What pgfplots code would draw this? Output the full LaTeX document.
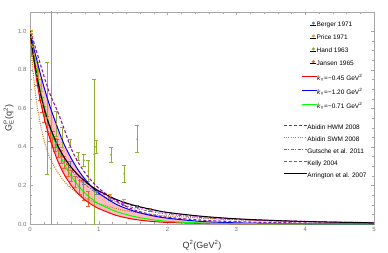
\documentclass[border=0pt]{standalone}
\usepackage{pgfplots}
\pgfplotsset{compat=1.18}
\usepackage{pgfplotstable}
\usepgfplotslibrary{fillbetween}
\usepackage{amsmath}
\usepackage{fontspec}
\setmainfont{Liberation Sans}

\definecolor{cberger}{HTML}{5E81B5}
\definecolor{cprice}{HTML}{E19C24}
\definecolor{chand}{HTML}{8FB032}
\definecolor{cjansen}{HTML}{EB6235}
\definecolor{cpurple}{HTML}{9614A0}
\definecolor{cbrown}{HTML}{CD7828}
\definecolor{cgray}{HTML}{6E6E6E}
\definecolor{cmag}{HTML}{FF00FF}
\definecolor{cband}{HTML}{FFA5A5}

\pgfplotstableread{
q     red    green  blue   hwm    swm    gut    kelly  arr
0     1      1      1      1      1      1      1      1
0.025 0.925  0.94   0.96   0.975  0.87   0.935  0.935  0.935
0.05  0.86   0.88   0.92   0.95   0.77   0.875  0.873  0.873
0.1   0.74   0.78   0.85   0.89   0.62   0.77   0.769  0.769
0.15  0.64   0.695  0.78   0.83   0.52   0.68   0.681  0.681
0.2   0.56   0.62   0.715  0.77   0.44   0.605  0.608  0.608
0.25  0.49   0.555  0.655  0.715  0.38   0.54   0.546  0.546
0.3   0.43   0.49   0.60   0.665  0.335  0.49   0.494  0.494
0.4   0.33   0.39   0.50   0.585  0.27   0.40   0.409  0.409
0.5   0.255  0.31   0.41   0.49   0.22   0.333  0.344  0.344
0.6   0.20   0.25   0.34   0.39   0.185  0.28   0.293  0.294
0.7   0.157  0.20   0.28   0.32   0.157  0.238  0.252  0.254
0.8   0.125  0.16   0.232  0.265  0.135  0.205  0.219  0.221
0.9   0.10   0.13   0.192  0.222  0.118  0.178  0.192  0.194
1.0   0.08   0.105  0.16   0.185  0.105  0.155  0.168  0.172
1.25  0.045  0.065  0.103  0.12   0.08   0.113  0.125  0.128
1.5   0.025  0.04   0.068  0.075  0.063  0.085  0.095  0.098
1.75  0.014  0.024  0.045  0.05   0.051  0.065  0.074  0.077
2     0.008  0.014  0.03   0.035  0.042  0.051  0.058  0.060
2.5   0.003  0.005  0.013  0.02   0.03   0.033  0.038  0.040
3     0.001  0.002  0.006  0.012  0.022  0.022  0.026  0.027
3.5   0.0005 0.001  0.003  0.008  0.017  0.016  0.018  0.019
4     0.0002 0.0004 0.0013 0.005  0.013  0.011  0.013  0.013
4.5   0.0001 0.0002 0.0006 0.003  0.010  0.008  0.009  0.009
5     0      0.0001 0.0003 0.002  0.008  0.006  0.007  0.006
}\curves

\pgfplotstableread{
q     g      e
0.39  0.42   0.02
0.58  0.31   0.015
0.78  0.22   0.012
0.97  0.165  0.01
1.17  0.13   0.009
1.36  0.105  0.008
1.56  0.092  0.007
1.75  0.071  0.007
}\berger

\pgfplotstableread{
q     g      e
0.01  0.99   0.015
0.02  0.97   0.015
0.04  0.92   0.02
0.06  0.88   0.02
0.08  0.84   0.02
0.12  0.78   0.03
0.16  0.72   0.03
1.17  0.145  0.01
1.36  0.118  0.008
1.75  0.074  0.007
}\price

\pgfplotstableread{
q     g      e
0.02  0.93   0.06
0.10  0.78   0.06
0.245 0.55   0.29
0.31  0.29   0.85
0.38  0.52   0.065
0.47  0.45   0.05
0.58  0.42   0.02
0.70  0.35   0.02
0.78  0.33   0.03
0.85  0.275  0.055
0.935 0.36   0.39
0.96  0.40   0.035
1.18  0.36   0.04
1.37  0.26   0.045
1.56  0.44   0.07
}\hand

\pgfplotstableread{
q     g      e
0.10  0.76   0.04
0.14  0.68   0.04
0.18  0.62   0.04
0.21  0.57   0.04
0.25  0.52   0.04
0.29  0.47   0.04
0.33  0.44   0.04
0.37  0.41   0.035
0.41  0.38   0.035
0.45  0.35   0.035
0.50  0.32   0.03
0.55  0.28   0.03
0.60  0.25   0.03
0.66  0.22   0.03
0.72  0.19   0.035
0.78  0.165  0.04
0.85  0.13   0.04
}\jansen

\pgfplotsset{
  base/.style={at={(0,0)}, anchor=south west, scale only axis,
    width=344pt, height=212pt, xmin=0, xmax=5, ymin=0, ymax=1.1},
  databars/.style={only marks, mark=*, mark size=0.8pt, color=#1,
    error bars/.cd, y dir=both, y explicit,
    error bar style={line width=0.5pt, #1},
    error mark options={rotate=90, mark size=2pt, line width=0.5pt, #1}},
  legaxis/.style={base, hide axis,
    legend style={draw=none, fill=none, font=\fontsize{6.5}{7}\selectfont,
      nodes={inner sep=0pt, text height=5pt, text depth=1.5pt},
      legend cell align=left}},
}

\begin{document}
\begin{tikzpicture}
\begin{axis}[base,
  xtick={0,1,2,3,4,5}, ytick={0,0.2,0.4,0.6,0.8,1.0},
  minor x tick num=4, minor y tick num=3,
  tick align=inside,
  major tick length=3pt, minor tick length=1.6pt,
  axis line style={black!35}, tick style={black!35},
  ticklabel style={font=\fontsize{6}{7}\selectfont, text=black!55},
  /pgf/number format/assume math mode=true,
  yticklabel style={/pgf/number format/fixed, /pgf/number format/fixed zerofill,
    /pgf/number format/precision=1},
  xticklabel style={/pgf/number format/fixed},
  xlabel={Q\textsuperscript{2}(GeV\textsuperscript{2})},
  ylabel={$\text{G}^{\text{P}}_{\text{E}}$(q\textsuperscript{2})},
  label style={font=\fontsize{9}{10}\selectfont, text=black!80},
  xlabel style={at={(axis description cs:0.5,-0.1)}, anchor=center},
  ylabel style={at={(axis description cs:-0.062,0.5)}, anchor=center},
]
\addplot[databars=chand] table[x=q, y=g, y error=e] {\hand};
\addplot[databars=cjansen] table[x=q, y=g, y error=e] {\jansen};
\addplot[databars=cprice] table[x=q, y=g, y error=e] {\price};
\addplot[databars=cberger] table[x=q, y=g, y error=e] {\berger};

\addplot[draw=none, name path=lo, smooth, forget plot] table[x=q, y=red] {\curves};
\addplot[draw=none, name path=hi, smooth, forget plot] table[x=q, y=blue] {\curves};
\addplot[fill=cband, fill opacity=0.75, draw=none] fill between[of=lo and hi];

\addplot[color=cpurple, dash pattern=on 3pt off 2pt, line width=1.1pt, smooth] table[x=q, y=hwm] {\curves};
\addplot[color=cbrown, dash pattern=on 1pt off 1.2pt, line width=1.1pt, smooth] table[x=q, y=swm] {\curves};
\addplot[color=cgray, dash pattern=on 3pt off 1.5pt on 1pt off 1.5pt, line width=0.8pt, smooth] table[x=q, y=gut] {\curves};
\addplot[color=cmag, dash pattern=on 3pt off 2pt, line width=1.1pt, smooth] table[x=q, y=kelly] {\curves};
\addplot[color=red, line width=1pt, smooth] table[x=q, y=red] {\curves};
\addplot[color=blue, line width=1pt, smooth] table[x=q, y=blue] {\curves};
\addplot[color=green, line width=1pt, smooth] table[x=q, y=green] {\curves};
\addplot[color=black, line width=1pt, smooth] table[x=q, y=arr] {\curves};
\end{axis}

% legend group 1
\begin{axis}[legaxis,
  legend style={at={(rel axis cs:0.8052,0.965)}, anchor=north west, row sep=6.1pt,
    /tikz/every even column/.append style={column sep=2pt}}]
\addplot[draw=none, forget plot] coordinates {(0,0) (5,1.1)};
\addlegendimage{legend image code/.code={\fill[color={rgb,255:red,94;green,129;blue,181}] (3pt,2pt) circle (1.3pt); \path (0pt,0pt) -- (6pt,0pt);}}
\addlegendentry{Berger 1971}
\addlegendimage{legend image code/.code={\fill[color={rgb,255:red,225;green,156;blue,36}] (3pt,2pt) circle (1.3pt); \path (0pt,0pt) -- (6pt,0pt);}}
\addlegendentry{Price 1971}
\addlegendimage{legend image code/.code={\fill[color={rgb,255:red,143;green,176;blue,50}] (3pt,2pt) circle (1.3pt); \path (0pt,0pt) -- (6pt,0pt);}}
\addlegendentry{Hand 1963}
\addlegendimage{legend image code/.code={\fill[color={rgb,255:red,235;green,98;blue,53}] (3pt,2pt) circle (1.3pt); \path (0pt,0pt) -- (6pt,0pt);}}
\addlegendentry{Jansen 1965}
\end{axis}

% legend group 2
\begin{axis}[legaxis,
  legend style={at={(rel axis cs:0.779,0.712)}, anchor=north west, row sep=7.5pt,
    /tikz/every even column/.append style={column sep=2pt}}]
\addplot[draw=none, forget plot] coordinates {(0,0) (5,1.1)};
\addlegendimage{legend image code/.code={\draw[color={rgb,255:red,255;green,0;blue,0}, line width=1pt] (0pt,2pt) -- (15pt,2pt);}}
\addlegendentry{\textit{k}\textsubscript{Y}=−0.45 GeV\textsuperscript{2}}
\addlegendimage{legend image code/.code={\draw[color={rgb,255:red,0;green,0;blue,255}, line width=1pt] (0pt,2pt) -- (15pt,2pt);}}
\addlegendentry{\textit{k}\textsubscript{Y}=−1.20 GeV\textsuperscript{2}}
\addlegendimage{legend image code/.code={\draw[color={rgb,255:red,0;green,255;blue,0}, line width=1pt] (0pt,2pt) -- (15pt,2pt);}}
\addlegendentry{\textit{k}\textsubscript{Y}=−0.71 GeV\textsuperscript{2}}
\end{axis}

% legend group 3
\begin{axis}[legaxis,
  legend style={at={(rel axis cs:0.727,0.481)}, anchor=north west, row sep=5.5pt,
    /tikz/every even column/.append style={column sep=4pt}}]
\addplot[draw=none, forget plot] coordinates {(0,0) (5,1.1)};
\addlegendimage{legend image code/.code={\draw[color={rgb,255:red,150;green,20;blue,160}, line width=1.1pt] (0pt,2pt) -- (3pt,2pt) (5pt,2pt) -- (8pt,2pt) (10pt,2pt) -- (13pt,2pt) (15pt,2pt) -- (18pt,2pt) (20pt,2pt) -- (23pt,2pt);}}
\addlegendentry{Abidin HWM 2008}
\addlegendimage{legend image code/.code={\draw[color={rgb,255:red,205;green,120;blue,40}, line width=1.1pt] (0pt,2pt) -- (1pt,2pt) (2.3pt,2pt) -- (3.3pt,2pt) (4.6pt,2pt) -- (5.6pt,2pt) (6.9pt,2pt) -- (7.9pt,2pt) (9.2pt,2pt) -- (10.2pt,2pt) (11.5pt,2pt) -- (12.5pt,2pt) (13.8pt,2pt) -- (14.8pt,2pt) (16.1pt,2pt) -- (17.1pt,2pt) (18.4pt,2pt) -- (19.4pt,2pt) (20.7pt,2pt) -- (21.7pt,2pt);}}
\addlegendentry{Abidin SWM 2008}
\addlegendimage{legend image code/.code={\draw[color={rgb,255:red,110;green,110;blue,110}, line width=0.8pt] (0pt,2pt) -- (3pt,2pt) (4.5pt,2pt) -- (5.5pt,2pt) (7pt,2pt) -- (10pt,2pt) (11.5pt,2pt) -- (12.5pt,2pt) (14pt,2pt) -- (17pt,2pt) (18.5pt,2pt) -- (19.5pt,2pt) (21pt,2pt) -- (23pt,2pt);}}
\addlegendentry{Gutsche et al. 2011}
\addlegendimage{legend image code/.code={\draw[color={rgb,255:red,255;green,0;blue,255}, line width=1.1pt] (0pt,2pt) -- (3pt,2pt) (5pt,2pt) -- (8pt,2pt) (10pt,2pt) -- (13pt,2pt) (15pt,2pt) -- (18pt,2pt) (20pt,2pt) -- (23pt,2pt);}}
\addlegendentry{Kelly 2004}
\addlegendimage{legend image code/.code={\draw[color=black, line width=1pt] (0pt,2pt) -- (23pt,2pt);}}
\addlegendentry{Arrington et al. 2007}
\end{axis}
\pgfresetboundingbox
\useasboundingbox (-30pt,-28pt) rectangle (358pt,224pt);
\end{tikzpicture}
\end{document}
